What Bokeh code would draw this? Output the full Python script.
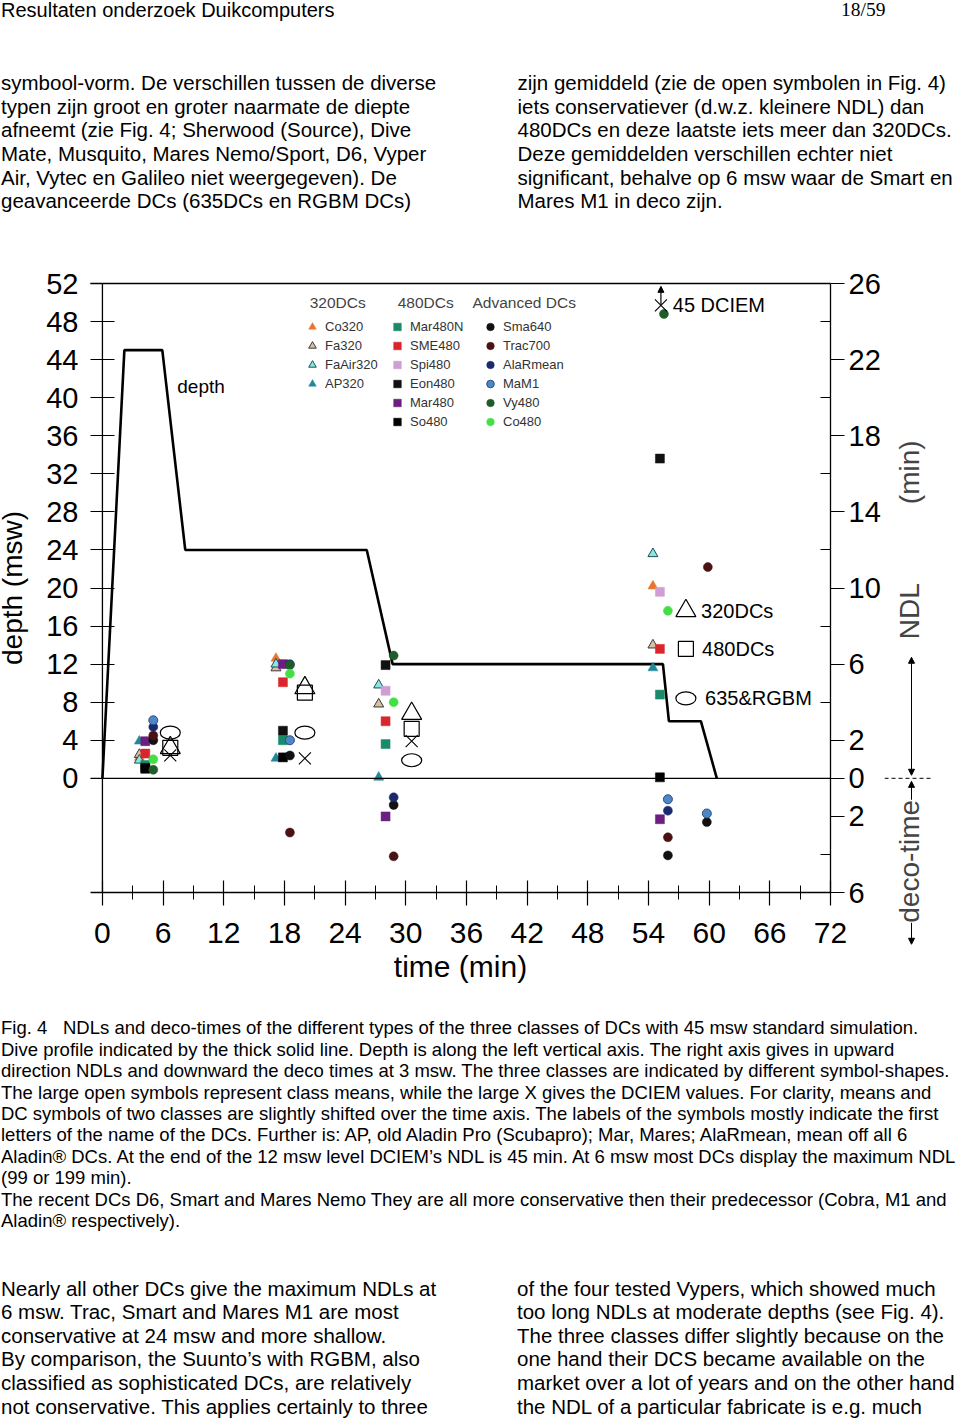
import math
from bokeh.plotting import figure
from bokeh.models import (Range1d, LinearAxis, FixedTicker, Span, Label, Arrow,
                          NormalHead, Legend, LegendItem, Div)
from bokeh.layouts import column, row
from bokeh.embed import file_html
from bokeh.resources import INLINE

FONT = "Liberation Sans"
CSS_FONT = "'Liberation Sans', Arial, sans-serif"

# ---------------- page text ----------------
header_left = "Resultaten onderzoek Duikcomputers"
header_right = "18/59"
top_left_lines = [
    "symbool-vorm. De verschillen tussen de diverse",
    "typen zijn groot en groter naarmate de diepte",
    "afneemt (zie Fig. 4; Sherwood (Source), Dive",
    "Mate, Musquito, Mares Nemo/Sport, D6, Vyper",
    "Air, Vytec en Galileo niet weergegeven). De",
    "geavanceerde DCs (635DCs en RGBM DCs)",
]
top_right_lines = [
    "zijn gemiddeld (zie de open symbolen in Fig. 4)",
    "iets conservatiever (d.w.z. kleinere NDL) dan",
    "480DCs en deze laatste iets meer dan 320DCs.",
    "Deze gemiddelden verschillen echter niet",
    "significant, behalve op 6 msw waar de Smart en",
    "Mares M1 in deco zijn.",
]
caption_head = "Fig. 4"
caption_lines = [
    "NDLs and deco-times of the different types of the three classes of DCs with 45 msw standard simulation.",
    "Dive profile indicated by the thick solid line. Depth is along the left vertical axis. The right axis gives in upward",
    "direction NDLs and downward the deco times at 3 msw. The three classes are indicated by different symbol-shapes.",
    "The large open symbols represent class means, while the large X gives the DCIEM values. For clarity, means and",
    "DC symbols of two classes are slightly shifted over the time axis. The labels of the symbols mostly indicate the first",
    "letters of the name of the DCs. Further is: AP, old Aladin Pro (Scubapro); Mar, Mares; AlaRmean, mean off all 6",
    "Aladin&reg; DCs. At the end of the 12 msw level DCIEM&rsquo;s NDL is 45 min. At 6 msw most DCs display the maximum NDL",
    "(99 or 199 min).",
    "The recent DCs D6, Smart and Mares Nemo They are all more conservative then their predecessor (Cobra, M1 and",
    "Aladin&reg; respectively).",
]
bottom_left_lines = [
    "Nearly all other DCs give the maximum NDLs at",
    "6 msw. Trac, Smart and Mares M1 are most",
    "conservative at 24 msw and more shallow.",
    "By comparison, the Suunto&rsquo;s with RGBM, also",
    "classified as sophisticated DCs, are relatively",
    "not conservative. This applies certainly to three",
]
bottom_right_lines = [
    "of the four tested Vypers, which showed much",
    "too long NDLs at moderate depths (see Fig. 4).",
    "The three classes differ slightly because on the",
    "one hand their DCS became available on the",
    "market over a lot of years and on the other hand",
    "the NDL of a particular fabricate is e.g. much",
]

# ---------------- chart data ----------------
# dive profile (time in min, depth in msw)
profile_time = [0, 2.17, 5.92, 8.19, 26.14, 28.7, 55.43, 56.02, 59.18, 60.76]
profile_depth = [0, 45, 45, 24, 24, 12, 12, 6, 6, 0]

# NDL (positive, min) / deco-time (negative, min) per DC
co320_t = [3.65, 17.16, 54.44];            co320_v = [1.1, 6.3, 10.1]
fa320_t = [3.65, 17.16, 27.32, 54.44];     fa320_v = [1.25, 5.8, 3.9, 7.0]
faair320_t = [3.65, 17.16, 27.32, 54.44];  faair320_v = [0.95, 6.0, 4.9, 11.8]
ap320_t = [3.65, 17.16, 27.32, 54.44];     ap320_v = [1.95, 1.05, 0.05, 5.8]

mar480n_t = [4.24, 17.85, 28.0, 55.13];    mar480n_v = [0.7, 2.0, 1.8, 4.4]
sme480_t = [4.24, 17.85, 28.0, 55.13];     sme480_v = [1.3, 5.05, 3.0, 6.8]
spi480_t = [28.0, 55.13];                  spi480_v = [4.6, 9.8]
eon480_t = [4.24, 17.85, 28.0, 55.13];     eon480_v = [0.55, 2.5, 5.95, 16.8]
mar480_t = [4.24, 17.85, 28.0, 55.13];     mar480_v = [1.95, 6.0, -2.0, -2.15]
so480_t = [4.24, 17.85, 55.13];            so480_v = [0.5, 1.1, 0.05]

sma640_t = [5.03, 18.54, 28.8, 55.92, 59.77];   sma640_v = [2.0, 1.2, -1.4, -4.05, -2.3]
trac700_t = [5.03, 18.54, 28.8, 55.92, 59.87];  trac700_v = [2.25, -2.85, -4.1, -3.1, 11.1]
alarmean_t = [5.03, 18.54, 28.8, 55.92];        alarmean_v = [2.7, 6.0, -1.0, -1.7]
mam1_t = [5.03, 18.54, 55.92, 59.77];           mam1_v = [3.05, 2.0, -1.1, -1.85]
vy480_t = [5.03, 18.54, 28.8, 55.53];           vy480_v = [0.45, 5.95, 6.45, 24.4]
co480_t = [5.03, 18.54, 28.8, 55.92];           co480_v = [1.0, 5.5, 4.0, 8.8]

# class means and DCIEM
mean_t = [6.71, 20.02, 30.58, 57.7]
mean320 = [1.6, 4.75, 3.4, 8.8]
mean480 = [1.6, 4.5, 2.6, 6.8]
mean635 = [2.4, 2.4, 0.95, 4.2]
dciem_t = [6.71, 20.02, 30.58, 55.23]
dciem_v = [1.2, 1.05, 1.95, 45]
NDL_SHOWN_MAX = 24.85   # off-scale values drawn at the top with an arrow

# axes
x_ticks = list(range(0, 73, 6))
x_minor = list(range(3, 72, 6))
depth_ticks = list(range(0, 53, 4))
ndl_ticks = [26, 22, 18, 14, 10, 6, 2, 0, -2, -6]
ndl_minor = [24, 20, 16, 12, 8, 4, -4]
ndl_overrides = {-2: "2", -6: "6"}

# ---------------- main figure ----------------
PX_PER_MIN = 10.139
PX_PER_UNIT = 19.031
SHIFT = 6                 # canvas starts 6px left of the page edge
P_W = 890
P_H = 745
B_LEFT = 94
B_TOP = 28
B_BOTTOM = 108
FRAME_RIGHT_PAGE = 830
p = figure(width=P_W, height=P_H, x_range=Range1d(-1.18, 72.0), y_range=Range1d(-6, 26),
           output_backend="svg", toolbar_location=None, y_axis_location=None,
           min_border_left=B_LEFT, min_border_right=P_W - (FRAME_RIGHT_PAGE + SHIFT),
           min_border_top=B_TOP, min_border_bottom=B_BOTTOM,
           background_fill_color="white", border_fill_color="white", outline_line_color=None,
           margin=(0, 0, 0, -SHIFT))
p.extra_y_ranges = {"depth": Range1d(-12, 52)}
p.grid.visible = False

xa = p.xaxis[0]
xa.ticker = FixedTicker(ticks=x_ticks, minor_ticks=x_minor)
xa.axis_line_width = 1.3
xa.major_tick_line_width = 1.2
xa.minor_tick_line_width = 1.0
xa.major_tick_in = 12
xa.major_tick_out = 13
xa.minor_tick_in = 7
xa.minor_tick_out = 7
xa.major_label_text_font = FONT
xa.major_label_text_font_size = "30px"
xa.major_label_text_color = "black"
xa.major_label_standoff = 17
xa.axis_label = "time (min)"
xa.axis_label_text_font = FONT
xa.axis_label_text_font_size = "30px"
xa.axis_label_text_font_style = "normal"
xa.axis_label_text_color = "black"
xa.axis_label_standoff = 4

ya = LinearAxis(y_range_name="depth", ticker=FixedTicker(ticks=depth_ticks, minor_ticks=[]))
ya.axis_line_color = None
ya.major_tick_in = 24
ya.major_tick_out = 0
ya.major_tick_line_width = 1.2
ya.major_label_text_font = FONT
ya.major_label_text_font_size = "29px"
ya.major_label_text_color = "black"
ya.major_label_standoff = 12
ya.axis_label = "depth (msw)"
ya.axis_label_text_font = FONT
ya.axis_label_text_font_size = "28px"
ya.axis_label_text_font_style = "normal"
ya.axis_label_text_color = "black"
ya.axis_label_standoff = 15
p.add_layout(ya, "left")

ra = LinearAxis(ticker=FixedTicker(ticks=ndl_ticks, minor_ticks=ndl_minor),
                major_label_overrides=ndl_overrides)
ra.axis_line_width = 1.3
ra.major_tick_in = 0
ra.major_tick_out = 14
ra.minor_tick_in = 10
ra.minor_tick_out = 0
ra.major_tick_line_width = 1.2
ra.major_label_text_font = FONT
ra.major_label_text_font_size = "29px"
ra.major_label_text_color = "black"
ra.major_label_standoff = 4
p.add_layout(ra, "right")

ta = LinearAxis(ticker=FixedTicker(ticks=[]))
ta.axis_line_width = 1.3
ta.major_tick_in = 0
ta.major_tick_out = 0
ta.minor_tick_in = 0
ta.minor_tick_out = 0
ta.major_label_text_font_size = "0px"
p.add_layout(ta, "above")

p.add_layout(Span(location=0, dimension="height", line_color="black", line_width=1.3))
p.add_layout(Span(location=0, dimension="width", line_color="black", line_width=1.3))

# dive profile
p.line(profile_time, profile_depth, y_range_name="depth", line_color="black", line_width=2.6)


def sc(t, v, marker, fill, line=None, size=10):
    return p.scatter(x=t, y=v, marker=marker, size=size, fill_color=fill,
                     line_color=line if line else fill, line_width=1.0 if line else 0.5)


r_co320 = sc(co320_t, co320_v, "triangle", "#e8762d")
r_fa320 = sc(fa320_t, fa320_v, "triangle", "#d9bfa3", "#3a3a3a")
r_faair320 = sc(faair320_t, faair320_v, "triangle", "#8be6e0", "#1d4f5a")
r_ap320 = sc(ap320_t, ap320_v, "triangle", "#23879a")

r_mar480n = sc(mar480n_t, mar480n_v, "square", "#1b8a6b", size=9)
r_sme480 = sc(sme480_t, sme480_v, "square", "#d9262c", size=9)
r_spi480 = sc(spi480_t, spi480_v, "square", "#cf9fd4", size=9)
r_eon480 = sc(eon480_t, eon480_v, "square", "#111111", size=9)
r_mar480 = sc(mar480_t, mar480_v, "square", "#6b1f7f", size=9)
r_so480 = sc(so480_t, so480_v, "square", "#000000", size=9)

r_sma640 = sc(sma640_t, sma640_v, "circle", "#111111", size=9)
r_trac700 = sc(trac700_t, trac700_v, "circle", "#4a1212", size=9)
r_alarmean = sc(alarmean_t, alarmean_v, "circle", "#1b2a6e", size=9)
r_mam1 = sc(mam1_t, mam1_v, "circle", "#4f86c6", "#2a4f80", size=9)
r_vy480 = sc(vy480_t, vy480_v, "circle", "#1f5c2a", size=9)
r_co480 = sc(co480_t, co480_v, "circle", "#43e043", size=9)

# class means (large open symbols) and DCIEM (large X)
p.scatter(mean_t, mean320, marker="triangle", size=20, fill_color=None, line_color="black", line_width=1.2)
p.scatter(mean_t, mean480, marker="square", size=15, fill_color=None, line_color="black", line_width=1.2)
p.ellipse(x=mean_t, y=mean635, width=20, height=13, width_units="screen", height_units="screen",
          fill_color=None, line_color="black", line_width=1.2)
dciem_y = [v if v < NDL_SHOWN_MAX else NDL_SHOWN_MAX for v in dciem_v]
p.scatter(dciem_t, dciem_y, marker="x", size=17, line_color="black", line_width=1.1)
for t, v, y in zip(dciem_t, dciem_v, dciem_y):
    if v > NDL_SHOWN_MAX:
        p.add_layout(Arrow(x_start=t, y_start=y + 0.05, x_end=t, y_end=25.85, line_width=1.2,
                           end=NormalHead(size=6, fill_color="black", line_color="black")))
        p.add_layout(Label(x=56.4, y=y, text=f"{v:g} DCIEM", text_font=FONT, text_font_size="20px",
                           text_baseline="middle", text_color="black"))

# legends of the individual DCs
def make_legend(items, loc):
    return Legend(items=[LegendItem(label=n, renderers=[r]) for n, r in items], location=loc,
                  orientation="vertical", glyph_width=20, glyph_height=19, label_height=19,
                  spacing=0, padding=0, margin=0, label_standoff=3,
                  label_text_font=FONT, label_text_font_size="13px", label_text_color="#333333",
                  border_line_color=None, background_fill_alpha=0)

p.add_layout(make_legend([("Co320", r_co320), ("Fa320", r_fa320), ("FaAir320", r_faair320),
                          ("AP320", r_ap320)], (212, 499.5)))
p.add_layout(make_legend([("Mar480N", r_mar480n), ("SME480", r_sme480), ("Spi480", r_spi480),
                          ("Eon480", r_eon480), ("Mar480", r_mar480), ("So480", r_so480)], (297, 461.5)))
p.add_layout(make_legend([("Sma640", r_sma640), ("Trac700", r_trac700), ("AlaRmean", r_alarmean),
                          ("MaM1", r_mam1), ("Vy480", r_vy480), ("Co480", r_co480)], (390, 461.5)))

for x, txt in [(20.5, "320DCs"), (29.2, "480DCs"), (36.6, "Advanced DCs")]:
    p.add_layout(Label(x=x, y=25.0, text=txt, text_font=FONT, text_font_size="15.5px",
                       text_baseline="middle", text_color="#444444"))

# labels of the mean symbols
for x, y, txt in [(59.2, 8.8, "320DCs"), (59.3, 6.8, "480DCs"), (59.6, 4.2, "635&RGBM")]:
    p.add_layout(Label(x=x, y=y, text=txt, text_font=FONT, text_font_size="20px",
                       text_baseline="middle", text_color="black"))

p.add_layout(Label(x=7.4, y=20.6, text="depth", text_font=FONT, text_font_size="19px",
                   text_baseline="middle", text_color="black"))

# ---------------- right-hand annotation strip (NDL up / deco-time down) ----------------
S_LEFT_PAGE = P_W - SHIFT
S_W = 955 - S_LEFT_PAGE
s_x0 = 72.0 + (S_LEFT_PAGE - FRAME_RIGHT_PAGE) / PX_PER_MIN
s_x1 = s_x0 + S_W / PX_PER_MIN
S_BOTTOM = 35
s_y0 = -6 - (B_BOTTOM - S_BOTTOM) / PX_PER_UNIT
s = figure(width=S_W, height=P_H, x_range=Range1d(s_x0, s_x1), y_range=Range1d(s_y0, 26),
           output_backend="svg", toolbar_location=None, x_axis_location=None, y_axis_location=None,
           min_border_left=0, min_border_right=0, min_border_top=B_TOP, min_border_bottom=S_BOTTOM,
           background_fill_color="white", border_fill_color="white", outline_line_color=None,
           margin=0, frame_align=False)
s.grid.visible = False
s.add_layout(Arrow(x_start=s_x0, y_start=0, x_end=82.1, y_end=0, start=None, end=None,
                   line_dash="4 3", line_width=1.0, line_color="black"))
s.add_layout(Arrow(x_start=79.99, y_start=0.16, x_end=79.99, y_end=6.36, line_width=1.0,
                   start=NormalHead(size=6, fill_color="black"), end=NormalHead(size=6, fill_color="black")))
s.add_layout(Arrow(x_start=79.99, y_start=-0.16, x_end=79.99, y_end=-8.72, line_width=1.0,
                   start=NormalHead(size=6, fill_color="black"), end=NormalHead(size=6, fill_color="black")))
s.add_layout(Label(x=79.84, y=16.08, text="(min)", angle=math.pi / 2, text_font=FONT,
                   text_font_size="28px", text_align="center", text_baseline="middle"))
s.add_layout(Label(x=79.84, y=8.78, text="NDL", angle=math.pi / 2, text_font=FONT,
                   text_font_size="28px", text_align="center", text_baseline="middle"))
s.add_layout(Label(x=79.84, y=-4.36, text="deco-time", angle=math.pi / 2, text_font=FONT,
                   text_font_size="28px", text_align="center", text_baseline="middle",
                   background_fill_color="white"))

# ---------------- text blocks ----------------
def line_div(x, baseline, text, size, family=CSS_FONT):
    top = baseline - 0.8465 * size
    return (f'<div style="position:absolute;left:{x}px;top:{top:.1f}px;font-family:{family};'
            f'font-size:{size}px;line-height:{size}px;white-space:nowrap;color:#000">{text}</div>')

top_html = [line_div(1, 16.5, header_left, 20),
            line_div(841, 16.5, header_right, 19.5, "'Liberation Serif', 'Times New Roman', serif")]
for i, t in enumerate(top_left_lines):
    top_html.append(line_div(1, 90.5 + i * 23.6, t, 20.5))
for i, t in enumerate(top_right_lines):
    top_html.append(line_div(517.5, 90.5 + i * 23.6, t, 20.5))
top_div = Div(text='<div style="position:relative;width:955px;height:255px">' + "".join(top_html) + "</div>",
              width=955, height=255, margin=0)

BOT0 = 255 + P_H
bot_html = [line_div(1, 1035 - BOT0, caption_head, 18.5)]
for i, t in enumerate(caption_lines):
    x = 63 if i == 0 else 1
    bot_html.append(line_div(x, 1035 - BOT0 + i * 21.4, t, 18.5))
for i, t in enumerate(bottom_left_lines):
    bot_html.append(line_div(1, 1296 - BOT0 + i * 23.6, t, 20.5))
for i, t in enumerate(bottom_right_lines):
    bot_html.append(line_div(517, 1296 - BOT0 + i * 23.6, t, 20.5))
BOT_H = 1412 - BOT0
bot_div = Div(text=f'<div style="position:relative;width:955px;height:{BOT_H}px">' + "".join(bot_html) + "</div>",
              width=955, height=BOT_H, margin=0)

layout = column(top_div, row(p, s, spacing=0, margin=0), bot_div, spacing=0, margin=0)

open("out.html", "w").write(file_html(layout, INLINE))
